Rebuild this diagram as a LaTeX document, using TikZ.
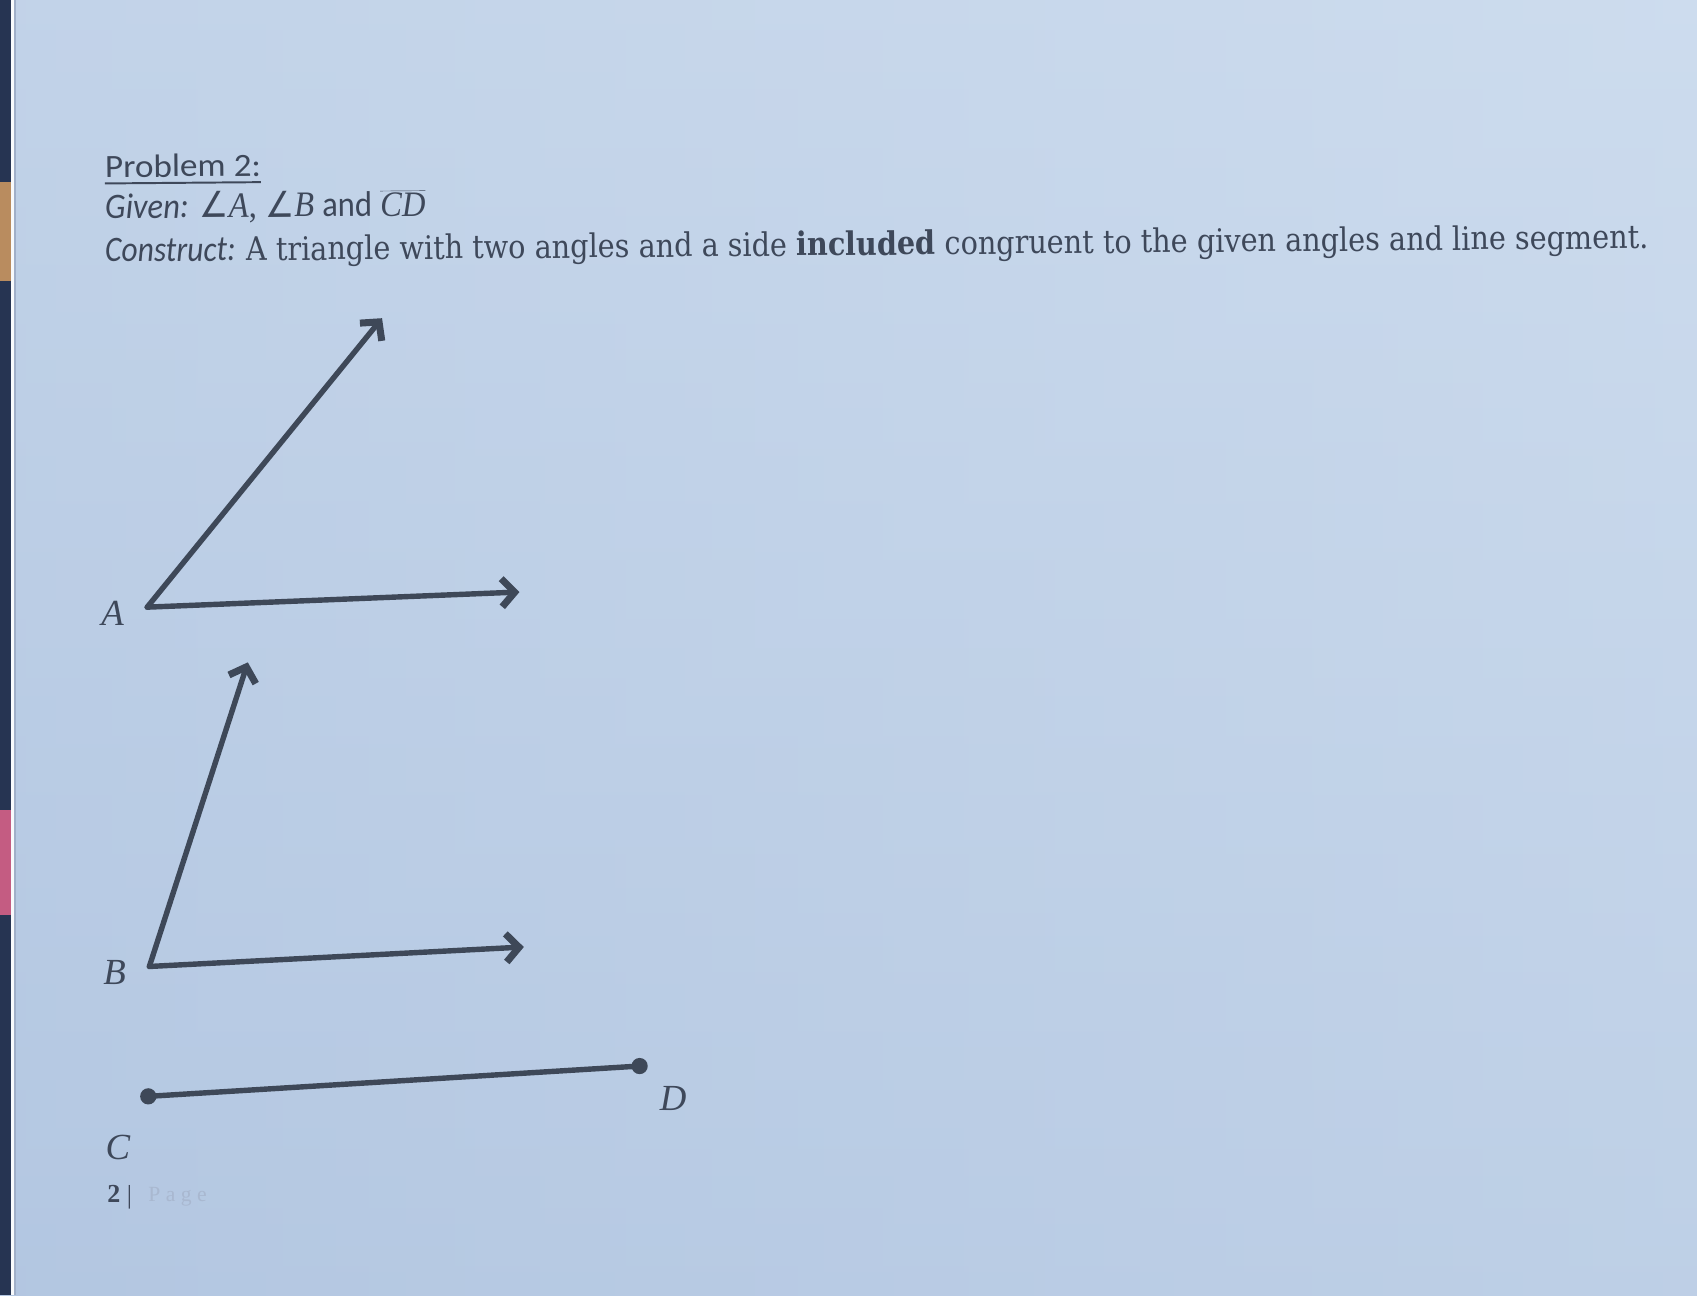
\documentclass[tikz,border=0pt]{standalone}
\usepackage{fontspec}
\usepackage{graphicx}
\setmainfont{Liberation Serif}
\newfontfamily\calib{Carlito}
\newfontfamily\camb{DejaVu Serif}
\newfontfamily\symb{DejaVu Sans}
\usetikzlibrary{arrows.meta}
\definecolor{ink}{RGB}{62,72,88}
\definecolor{txt}{RGB}{62,72,90}
\definecolor{bgtop}{RGB}{205,220,238}
\definecolor{bgbot}{RGB}{178,198,225}
\definecolor{navy}{RGB}{38,52,82}
\definecolor{edgeorange}{RGB}{185,140,95}
\definecolor{edgepink}{RGB}{196,92,130}
\definecolor{faint}{RGB}{160,175,200}
\begin{document}
\begin{tikzpicture}[x=1pt,y=-1pt,
  ray/.style={draw=ink,line width=5pt,line cap=round,line join=round,
    -{Straight Barb[length=12pt,width=26pt,line width=6.5pt]}},
  seg/.style={draw=ink,line width=5pt,line cap=round},
  dotpt/.style={circle,fill=ink,inner sep=0pt,minimum size=15pt},
  ptlabel/.style={font=\fontsize{34}{40}\selectfont\itshape,text=txt,inner sep=0pt},
  line/.style={anchor=base west,inner sep=0pt,text=txt,rotate=0.5,
    font=\fontsize{30}{34}\selectfont}]
\useasboundingbox (0,0) rectangle (1568,1197);
% background
\shade[left color=bgbot!90!bgtop, right color=bgtop] (0,0) rectangle (1568,1197);
\shade[top color=bgtop, bottom color=bgbot, opacity=0.55] (0,0) rectangle (1568,1197);
% page edge strip
\fill[navy] (0,0) rectangle (10,1197);
\fill[edgeorange] (0,168) rectangle (10,260);
\fill[edgepink] (0,748) rectangle (10,845);
\fill[white!85!bgtop] (10,0) rectangle (13,1197);
\fill[faint] (13,0) rectangle (14.5,1197);
% texts
\node[line] (title) at (97,164) {\resizebox{144pt}{\height}{\calib Problem 2:}};
\draw[txt,line width=1.8pt] (97,169.5) -- (241,168.3);
\node[line] (given) at (97,202) {\resizebox{296pt}{\height}{\fontsize{33}{38}\selectfont{\calib\itshape Given:} {\symb ∠}\textit{A}, {\symb ∠}\textit{B} {\calib and} $\overline{\mbox{\textit{CD}}}$}};
\node[line] (construct) at (97,242) {\resizebox{1426pt}{\height}{\fontsize{33}{38}\selectfont{\calib\itshape Construct:} {\camb\fontsize{30}{36}\selectfont A triangle with two angles and a side \textbf{included} congruent to the given angles and line segment.}}};
% angle A
\coordinate (A) at (136,561);
\coordinate (A1) at (353,294);
\coordinate (A2) at (480,547);
\draw[ray] (A) -- (A1);
\draw[ray] (A) -- (A2);
\node[ptlabel] (la) at (104,567) {A};
% angle B
\coordinate (B) at (138,893);
\coordinate (B1) at (229,612);
\coordinate (B2) at (484,875);
\draw[ray] (B) -- (B1);
\draw[ray] (B) -- (B2);
\node[ptlabel] (lb) at (106,899) {B};
% segment CD
\node[dotpt] (C) at (137,1013) {};
\node[dotpt] (D) at (591,985) {};
\draw[seg] (C.center) -- (D.center);
\node[ptlabel] (lc) at (109,1060) {C};
\node[ptlabel] (ld) at (622,1015) {D};
% page number
\node[anchor=base west,inner sep=0pt,font=\fontsize{24}{28}\selectfont\bfseries,text=txt] (pg) at (99,1111) {2};
\node[anchor=base west,inner sep=0pt,font=\fontsize{24}{28}\selectfont,text=txt] (bar) at (117,1112) {|};
\node[anchor=base west,inner sep=0pt,font=\fontsize{20}{24}\selectfont,text=faint!80!bgtop] (pw) at (137,1110) {P a g e};
\end{tikzpicture}
\end{document}
